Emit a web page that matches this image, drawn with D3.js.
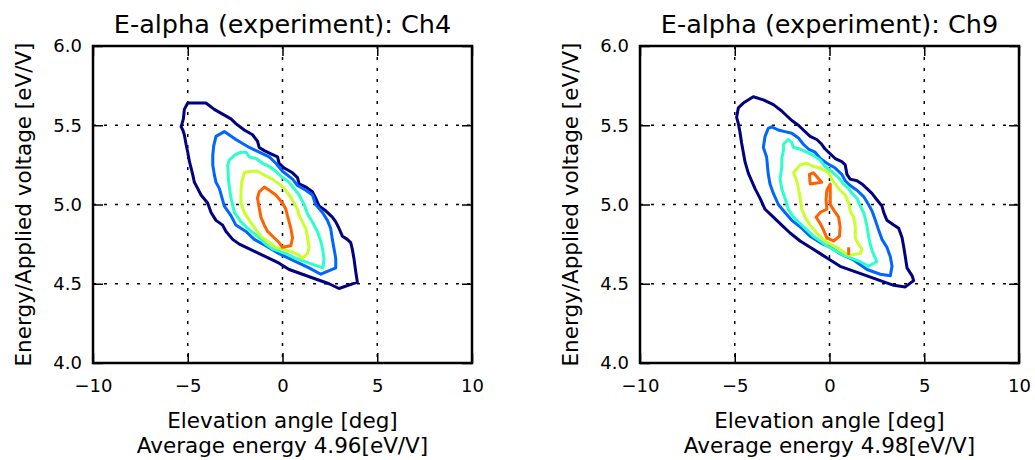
<!DOCTYPE html>
<html>
<head>
<meta charset="utf-8">
<script src="https://cdn.jsdelivr.net/npm/d3@7"></script>
<style>
  body { margin: 0; background: #fff; }
  svg { display: block; font-family: "DejaVu Sans", sans-serif; }
</style>
</head>
<body>
<svg id="chart" width="1035" height="460"></svg>
<script>
// jet colours of the five contour levels, outer to inner
const levelColors = ["#000080", "#0066ff", "#2cffca", "#caff2c", "#ff6200"];
const xTicks = [-10, -5, 0, 5, 10];
const yTicks = [4.0, 4.5, 5.0, 5.5, 6.0];
const titles = ["E-alpha (experiment): Ch4", "E-alpha (experiment): Ch9"];
const averages = ["4.96", "4.98"];

// contour lines: [elevation angle, energy]
const ch4Level1 = [[-5.0,5.64],[-4.04,5.64],[-3.60,5.60],[-3.16,5.57],[-2.72,5.54],[-2.46,5.51],[-2.02,5.47],[-1.58,5.44],[-1.32,5.40],[-1.23,5.36],[-0.96,5.34],[-0.61,5.32],[-0.26,5.30],[-0.18,5.26],[0.09,5.23],[0.53,5.20],[0.79,5.17],[0.88,5.13],[1.23,5.11],[1.58,5.08],[1.75,5.04],[1.93,4.99],[2.28,4.96],[2.63,4.92],[2.81,4.89],[2.98,4.85],[3.16,4.80],[3.42,4.78],[3.60,4.76],[3.68,4.72],[3.77,4.66],[3.86,4.58],[3.95,4.51],[2.98,4.47],[2.46,4.50],[1.75,4.53],[1.05,4.56],[0.35,4.59],[-0.18,4.63],[-0.70,4.66],[-1.23,4.69],[-1.75,4.72],[-2.28,4.75],[-2.63,4.78],[-2.98,4.83],[-3.16,4.87],[-3.51,4.90],[-3.77,4.95],[-3.95,5.01],[-4.30,5.06],[-4.47,5.10],[-4.65,5.14],[-4.74,5.19],[-4.91,5.27],[-5.0,5.33],[-5.09,5.38],[-5.18,5.44],[-5.26,5.47],[-5.35,5.49],[-5.23,5.54],[-5.18,5.60]];
const ch4Level2 = [[-3.07,5.46],[-2.46,5.41],[-1.75,5.36],[-1.23,5.33],[-0.70,5.30],[-0.35,5.26],[0,5.21],[0.53,5.16],[0.79,5.12],[1.23,5.09],[1.58,5.06],[1.75,5.00],[2.11,4.95],[2.37,4.90],[2.54,4.85],[2.63,4.78],[2.72,4.72],[2.81,4.66],[2.81,4.60],[2.02,4.56],[1.40,4.60],[0.70,4.64],[-0.18,4.69],[-0.88,4.74],[-1.49,4.78],[-1.93,4.83],[-2.46,4.87],[-2.72,4.93],[-3.07,4.99],[-3.33,5.10],[-3.51,5.14],[-3.60,5.19],[-3.68,5.25],[-3.68,5.31],[-3.63,5.37],[-3.51,5.43]];
const ch4Level3 = [[-2.54,5.31],[-2.19,5.33],[-1.93,5.33],[-1.75,5.30],[-1.40,5.29],[-1.05,5.26],[-0.70,5.24],[-0.35,5.21],[0,5.17],[0.35,5.14],[0.61,5.10],[0.88,5.06],[1.14,5.00],[1.32,4.94],[1.58,4.89],[1.84,4.83],[2.02,4.77],[2.11,4.72],[2.19,4.66],[2.14,4.60],[1.40,4.63],[0.70,4.66],[0.18,4.69],[-0.53,4.72],[-0.88,4.75],[-1.23,4.79],[-1.75,4.84],[-2.19,4.89],[-2.54,4.95],[-2.72,5.04],[-2.84,5.14],[-2.89,5.25],[-2.81,5.28]];
const ch4Level4 = [[-2.02,5.20],[-1.67,5.21],[-1.32,5.21],[-0.88,5.18],[-0.53,5.16],[-0.18,5.13],[0.09,5.10],[0.35,5.06],[0.61,5.01],[0.79,4.97],[0.88,4.93],[1.05,4.89],[1.23,4.85],[1.32,4.79],[1.40,4.73],[1.32,4.69],[1.05,4.66],[0.88,4.68],[0.53,4.70],[0,4.72],[-0.35,4.73],[-0.70,4.76],[-1.05,4.79],[-1.40,4.84],[-1.75,4.90],[-2.02,4.95],[-2.19,5.01],[-2.19,5.09],[-2.14,5.15]];
const ch4Level5 = [[-0.96,5.11],[-0.70,5.09],[-0.35,5.06],[0,5.01],[0.18,4.97],[0.26,4.93],[0.35,4.89],[0.44,4.85],[0.53,4.79],[0.44,4.74],[0,4.73],[-0.18,4.76],[-0.44,4.79],[-0.79,4.83],[-0.96,4.87],[-1.14,4.92],[-1.23,4.98],[-1.32,5.04],[-1.23,5.08]];

const ch9Level1 = [[-4.02,5.68],[-3.49,5.66],[-2.96,5.63],[-2.52,5.59],[-2.26,5.56],[-1.99,5.53],[-1.64,5.50],[-1.38,5.47],[-1.02,5.43],[-0.67,5.41],[-0.41,5.38],[-0.23,5.35],[0.04,5.32],[0.30,5.29],[0.65,5.27],[0.83,5.25],[0.92,5.19],[1.09,5.16],[1.45,5.15],[1.71,5.13],[1.98,5.10],[2.24,5.07],[2.50,5.03],[2.77,4.99],[2.86,4.95],[3.03,4.90],[3.39,4.87],[3.65,4.85],[3.83,4.79],[3.92,4.73],[4.00,4.67],[4.09,4.60],[4.36,4.55],[4.44,4.52],[4.00,4.48],[3.39,4.49],[2.68,4.52],[1.98,4.55],[1.27,4.58],[0.56,4.61],[0.04,4.65],[-0.49,4.69],[-1.02,4.73],[-1.55,4.77],[-2.08,4.82],[-2.52,4.87],[-2.96,4.92],[-3.40,4.97],[-3.67,5.04],[-3.93,5.10],[-4.11,5.15],[-4.29,5.20],[-4.46,5.27],[-4.55,5.33],[-4.64,5.39],[-4.73,5.46],[-4.81,5.51],[-4.90,5.55],[-4.81,5.61],[-4.55,5.64]];
const ch9Level2 = [[-3.23,5.48],[-3.05,5.49],[-2.70,5.47],[-2.35,5.46],[-1.99,5.45],[-1.64,5.42],[-1.38,5.38],[-1.11,5.35],[-0.76,5.33],[-0.49,5.29],[-0.14,5.26],[0.30,5.23],[0.65,5.19],[0.83,5.15],[1.09,5.12],[1.45,5.09],[1.80,5.05],[2.06,5.00],[2.24,4.96],[2.42,4.90],[2.59,4.84],[2.77,4.78],[3.03,4.73],[3.21,4.67],[3.30,4.61],[3.21,4.55],[2.68,4.56],[1.98,4.59],[1.27,4.65],[0.56,4.69],[0.04,4.73],[-0.49,4.76],[-1.02,4.80],[-1.55,4.86],[-1.99,4.90],[-2.35,4.95],[-2.70,5.00],[-2.96,5.07],[-3.14,5.13],[-3.23,5.19],[-3.32,5.30],[-3.49,5.36],[-3.40,5.43]];
const ch9Level3 = [[-2.43,5.38],[-2.17,5.41],[-1.99,5.39],[-1.90,5.36],[-1.55,5.35],[-1.20,5.33],[-0.85,5.31],[-0.49,5.28],[-0.23,5.24],[0.21,5.20],[0.48,5.17],[0.74,5.13],[1.01,5.10],[1.18,5.07],[1.45,5.04],[1.62,4.99],[1.80,4.95],[1.89,4.91],[1.98,4.86],[2.06,4.80],[2.15,4.75],[2.24,4.71],[2.42,4.66],[2.50,4.64],[2.06,4.61],[1.62,4.64],[1.18,4.66],[0.74,4.68],[0.30,4.71],[-0.14,4.74],[-0.49,4.77],[-0.85,4.80],[-1.20,4.84],[-1.55,4.88],[-1.90,4.92],[-2.17,4.97],[-2.35,5.04],[-2.52,5.10],[-2.61,5.16],[-2.52,5.23],[-2.52,5.29],[-2.43,5.34]];
const ch9Level4 = [[-1.90,5.20],[-1.55,5.25],[-1.20,5.26],[-0.85,5.24],[-0.49,5.23],[-0.05,5.20],[0.12,5.16],[0.30,5.13],[0.56,5.09],[0.83,5.06],[1.01,5.01],[1.09,4.96],[1.27,4.92],[1.36,4.86],[1.36,4.79],[1.53,4.75],[1.71,4.72],[1.62,4.69],[1.01,4.68],[0.74,4.70],[0.39,4.73],[0.04,4.75],[-0.32,4.78],[-0.67,4.82],[-1.02,4.87],[-1.29,4.92],[-1.46,4.97],[-1.55,5.04],[-1.64,5.10],[-1.73,5.15]];
const ch9Level5a = [[-1.06,5.19],[-0.85,5.20],[-0.41,5.14],[-1.02,5.13]];
const ch9Level5b = [[0.04,5.13],[-0.14,5.09],[-0.18,5.03],[-0.14,4.97],[-0.49,4.95],[-0.71,4.92],[-0.49,4.88],[-0.32,4.84],[-0.14,4.79],[0.21,4.77],[0.53,4.80],[0.56,4.86],[0.48,4.92],[0.25,4.96],[0.04,5.00],[0.04,5.07]];
const ch9Level5c = [[1.01,4.73],[1.01,4.68]];

const panels = [
  {left: 93, title: titles[0], avg: averages[0], contours: [
    {level: 0, pts: ch4Level1, closed: true},
    {level: 1, pts: ch4Level2, closed: true},
    {level: 2, pts: ch4Level3, closed: true},
    {level: 3, pts: ch4Level4, closed: true},
    {level: 4, pts: ch4Level5, closed: true}]},
  {left: 640, title: titles[1], avg: averages[1], contours: [
    {level: 0, pts: ch9Level1, closed: true},
    {level: 1, pts: ch9Level2, closed: true},
    {level: 2, pts: ch9Level3, closed: true},
    {level: 3, pts: ch9Level4, closed: true},
    {level: 4, pts: ch9Level5a, closed: true},
    {level: 4, pts: ch9Level5b, closed: true},
    {level: 4, pts: ch9Level5c, closed: false}]}
];

const TOP = 46, HEIGHT = 317, WIDTH = 379, TICK = 10;
const svg = d3.select("#chart");

panels.forEach((p, i) => {
  const g = svg.append("g").attr("transform", `translate(${p.left},${TOP})`);
  const x = d3.scaleLinear().domain([-10, 10]).range([0, WIDTH]);
  const y = d3.scaleLinear().domain([4, 6]).range([HEIGHT, 0]);

  // dotted grid
  const grid = g.append("g").attr("stroke", "#000").attr("stroke-width", 1.5)
    .attr("stroke-dasharray", "3,8");
  grid.selectAll("line.gx").data(xTicks.slice(1, -1)).join("line")
    .attr("x1", d => x(d)).attr("x2", d => x(d)).attr("y1", 0).attr("y2", HEIGHT);
  grid.selectAll("line.gy").data(yTicks.slice(1, -1)).join("line")
    .attr("y1", d => y(d)).attr("y2", d => y(d)).attr("x1", 0).attr("x2", WIDTH);

  // contours
  const clipId = "clip" + i;
  g.append("clipPath").attr("id", clipId).append("rect")
    .attr("width", WIDTH).attr("height", HEIGHT);
  const closedLine = d3.line().x(d => x(d[0])).y(d => y(d[1])).curve(d3.curveLinearClosed);
  const openLine = d3.line().x(d => x(d[0])).y(d => y(d[1]));
  g.append("g").attr("clip-path", `url(#${clipId})`)
    .selectAll("path").data(p.contours).join("path")
    .attr("d", c => c.closed ? closedLine(c.pts) : openLine(c.pts))
    .attr("fill", "none")
    .attr("stroke", c => levelColors[c.level])
    .attr("stroke-width", 3)
    .attr("stroke-linejoin", "round");

  // axes with inward ticks on all sides
  const fmtX = d3.format("d"), fmtY = d3.format(".1f");
  const styleAxis = sel => {
    sel.select(".domain").remove();
    sel.selectAll(".tick line").attr("stroke", "#000").attr("stroke-width", 1.5);
    sel.selectAll(".tick text").attr("fill", "#000").style("font-size", "18px")
      .style("font-family", "'DejaVu Sans', sans-serif");
  };
  g.append("g").attr("transform", `translate(0,${HEIGHT})`)
    .call(d3.axisBottom(x).tickValues(xTicks).tickFormat(fmtX)
      .tickSizeInner(-TICK).tickSizeOuter(0).tickPadding(16))
    .call(styleAxis);
  g.append("g")
    .call(d3.axisTop(x).tickValues(xTicks).tickFormat("")
      .tickSizeInner(-TICK).tickSizeOuter(0))
    .call(styleAxis);
  g.append("g")
    .call(d3.axisLeft(y).tickValues(yTicks).tickFormat(fmtY)
      .tickSizeInner(-TICK).tickSizeOuter(0).tickPadding(11))
    .call(styleAxis);
  g.append("g").attr("transform", `translate(${WIDTH},0)`)
    .call(d3.axisRight(y).tickValues(yTicks).tickFormat("")
      .tickSizeInner(-TICK).tickSizeOuter(0))
    .call(styleAxis);

  // frame
  g.append("rect").attr("width", WIDTH).attr("height", HEIGHT)
    .attr("fill", "none").attr("stroke", "#000").attr("stroke-width", 2.5);

  // texts
  g.append("text").attr("x", WIDTH / 2).attr("y", 33 - TOP)
    .attr("text-anchor", "middle").style("font-size", "25.5px").text(p.title);
  const xl = g.append("text").attr("text-anchor", "middle").style("font-size", "21.5px");
  xl.append("tspan").attr("x", WIDTH / 2).attr("y", 428 - TOP).text("Elevation angle [deg]");
  xl.append("tspan").attr("x", WIDTH / 2).attr("y", 453 - TOP)
    .text(`Average energy ${p.avg}[eV/V]`);
  g.append("text")
    .attr("transform", `translate(-62,${HEIGHT / 2}) rotate(-90)`)
    .attr("text-anchor", "middle").style("font-size", "21.5px")
    .text("Energy/Applied voltage [eV/V]");
});
</script>
</body>
</html>
